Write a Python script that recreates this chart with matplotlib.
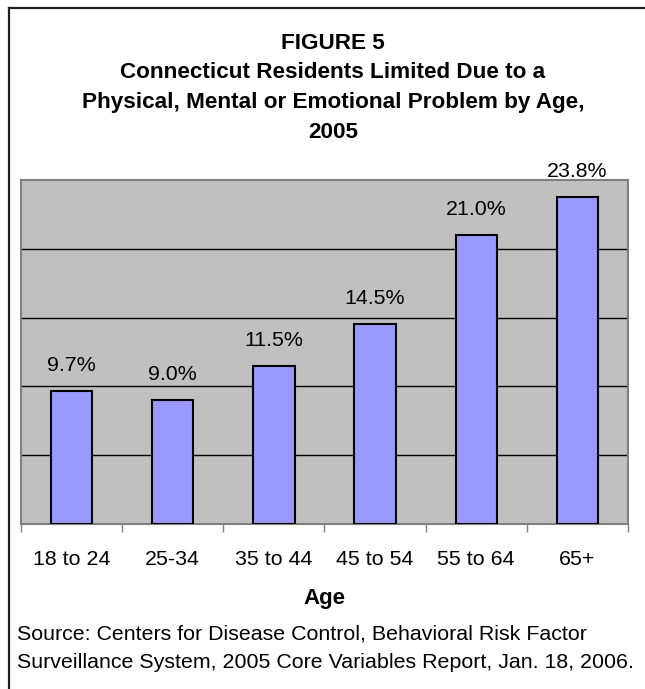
import matplotlib.pyplot as plt
import numpy as np

# Data
age_groups = ['18 to 24', '25-34', '35 to 44', '45 to 54', '55 to 64', '65+']
pct_limited = [9.7, 9.0, 11.5, 14.5, 21.0, 23.8]
value_labels = ['9.7%', '9.0%', '11.5%', '14.5%', '21.0%', '23.8%']

title_lines = [
    'FIGURE 5',
    'Connecticut Residents Limited Due to a',
    'Physical, Mental or Emotional Problem by Age,',
    '2005',
]
source_lines = [
    'Source: Centers for Disease Control, Behavioral Risk Factor',
    'Surveillance System, 2005 Core Variables Report, Jan. 18, 2006.',
]

W, H = 645, 689
plt.rcParams['font.family'] = ['Liberation Sans', 'DejaVu Sans']

fig = plt.figure(figsize=(W / 100, H / 100), dpi=100)


def fy(px):
    # pixel row (from top) -> figure fraction
    return 1 - px / H


# outer frame (left and top edges only)
fig.add_artist(plt.Line2D([9 / W, 9 / W], [0, fy(8)], color='#202020', lw=1.6))
fig.add_artist(plt.Line2D([9 / W, 1], [fy(8), fy(8)], color='#202020', lw=1.6))

ax = fig.add_axes([21 / W, fy(524), 607 / W, 344 / H])
ax.set_facecolor('#C0C0C0')

x = np.arange(len(age_groups))
ax.bar(x, pct_limited, width=0.41, color='#9999FF', edgecolor='black', linewidth=1.5, zorder=3)

for xi, v, lab in zip(x, pct_limited, value_labels):
    ax.annotate(lab, (xi, v), xytext=(0, 14.4), textcoords='offset points',
                ha='center', va='baseline', fontsize=15.4)

ax.set_xlim(-0.5, len(age_groups) - 0.5)
ax.set_ylim(0, 25)
ax.set_yticks([5, 10, 15, 20])
ax.yaxis.grid(True, color='black', lw=1)
ax.set_axisbelow(True)
ax.tick_params(axis='y', left=False, labelleft=False)

ax.set_xticks(x)
ax.set_xticklabels(age_groups, fontsize=15.4)
ax.set_xticks(np.arange(-0.5, len(age_groups)), minor=True)
ax.tick_params(axis='x', which='major', length=0, pad=18.5)
ax.tick_params(axis='x', which='minor', length=6, color='#808080', width=1)

for s in ax.spines.values():
    s.set_color('#808080')
    s.set_linewidth(1.5)

for txt, base in zip(title_lines, [49, 78, 108, 138]):
    fig.text(333 / W, fy(base), txt, ha='center', va='baseline',
             fontsize=16.2, fontweight='bold')

fig.text(324 / W, fy(604), 'Age', ha='center', va='baseline', fontsize=16, fontweight='bold')

for txt, base in zip(source_lines, [640, 668]):
    fig.text(17 / W, fy(base), txt, ha='left', va='baseline', fontsize=15.4)

fig.savefig('out.png', dpi=100)
